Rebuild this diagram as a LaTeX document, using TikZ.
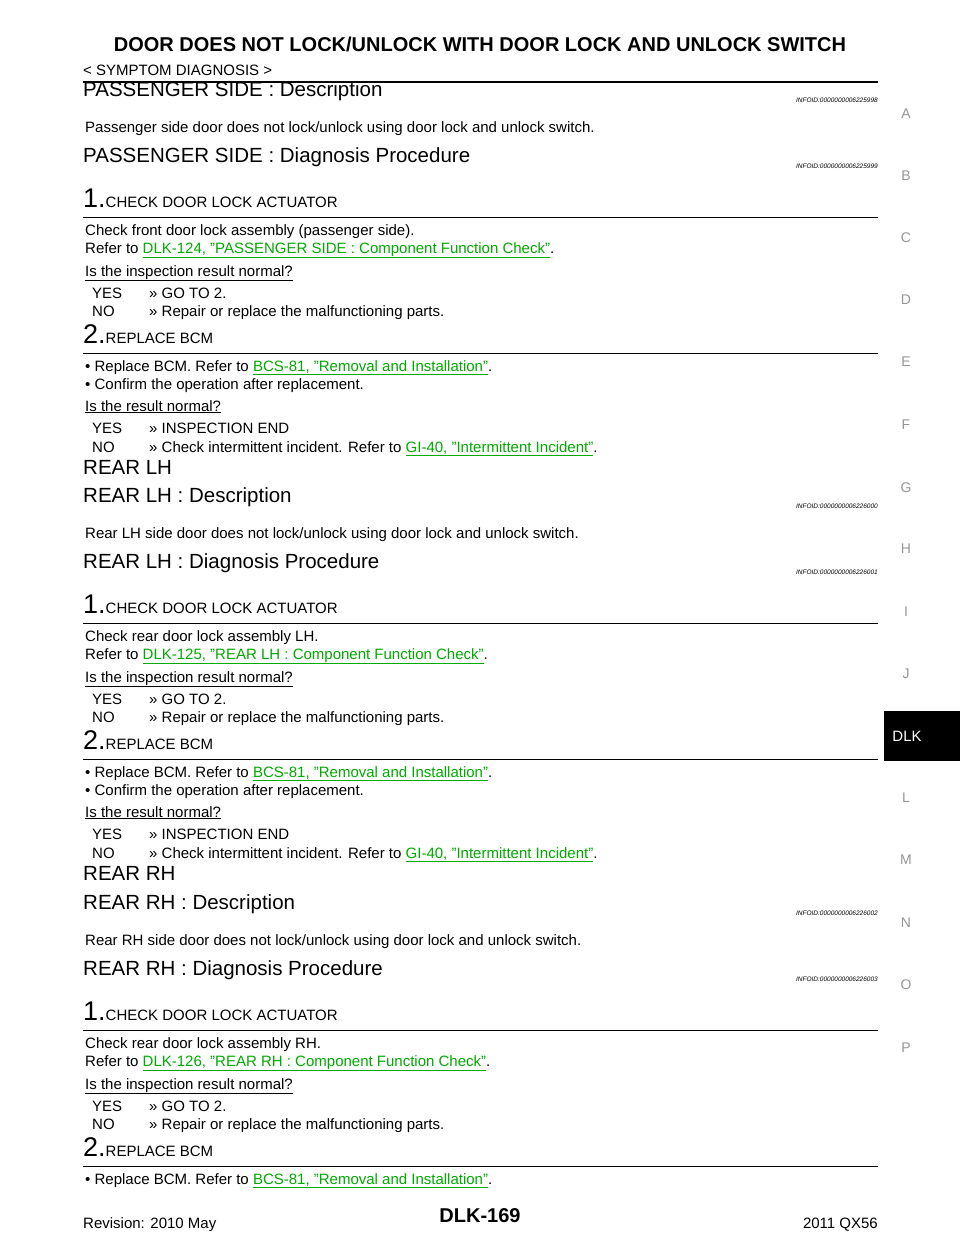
\documentclass[tikz,border=0pt]{standalone}
\usepackage{fontspec}
\setmainfont{Liberation Sans}
\definecolor{lnk}{RGB}{0,170,0}
\definecolor{side}{RGB}{150,150,150}
\newcommand{\lk}[1]{\textcolor{lnk}{\underline{#1}}}
\newcommand{\bd}{\fontsize{15}{18}\selectfont}
\newcommand{\hd}{\fontsize{20.5}{24}\selectfont}
\newcommand{\num}{\fontsize{27}{30}\selectfont}
\tikzset{t/.style={anchor=base west,inner sep=0pt},
  rule/.style={line width=1pt}}
\newcommand{\T}[3]{\node[t] at (#1,#2) {#3};}
\newcommand{\Blk}[5]{% offset, desc title, desc text, step1 text, link
\begin{scope}[yshift=-#1]
\T{83}{-96}{\hd #2 : Description}
\node[anchor=base east,inner sep=0pt] at (878,-102) {\fontsize{6.5}{7}\selectfont\itshape INFOID:#4};
\T{85}{-132}{\bd #3}
\T{83}{-162}{\hd #2 : Diagnosis Procedure}
\node[anchor=base east,inner sep=0pt] at (878,-168) {\fontsize{6.5}{7}\selectfont\itshape INFOID:#5};
\end{scope}}
\newcommand{\Steps}[3]{% offset, check line, link
\begin{scope}[yshift=-#1]
\T{83}{-207}{\num 1.\bd CHECK DOOR LOCK ACTUATOR}
\draw[rule] (83,-217)--(878,-217);
\T{85}{-235}{\bd #2}
\T{85}{-253}{\bd Refer to \lk{#3}.}
\T{85}{-276}{\bd \underline{Is the inspection result normal?}}
\T{92}{-298}{\bd YES}\T{149}{-298}{\bd >> GO TO 2.}
\T{92}{-316}{\bd NO}\T{149}{-316}{\bd >> Repair or replace the malfunctioning parts.}
\T{83}{-343}{\num 2.\bd REPLACE BCM}
\draw[rule] (83,-353)--(878,-353);
\T{85}{-371}{\bd • Replace BCM. Refer to \lk{BCS-81, "Removal and Installation"}.}
\end{scope}}
\newcommand{\Tail}[1]{%
\begin{scope}[yshift=-#1]
\T{85}{-389}{\bd • Confirm the operation after replacement.}
\T{85}{-411}{\bd \underline{Is the result normal?}}
\T{92}{-433}{\bd YES}\T{149}{-433}{\bd >> INSPECTION END}
\T{92}{-452}{\bd NO}\T{149}{-452}{\bd >> Check intermittent incident. Refer to \lk{GI-40, "Intermittent Incident"}.}
\end{scope}}
\begin{document}
\begin{tikzpicture}[x=1pt,y=1pt]
\useasboundingbox[fill=white] (0,0) rectangle (960,-1242);
\node[anchor=base,inner sep=0pt] (title) at (480,-51) {\fontsize{20}{24}\selectfont\bfseries DOOR DOES NOT LOCK/UNLOCK WITH DOOR LOCK AND UNLOCK SWITCH};
\T{83}{-75}{\bd < SYMPTOM DIAGNOSIS >}
\draw[line width=2pt] (83,-82)--(878,-82);
\Blk{0}{PASSENGER SIDE}{Passenger side door does not lock/unlock using door lock and unlock switch.}{0000000006225998}{0000000006225999}
\Steps{0}{Check front door lock assembly (passenger side).}{DLK-124, "PASSENGER SIDE : Component Function Check"}
\Tail{0}
\T{83}{-474}{\hd REAR LH}
\Blk{406}{REAR LH}{Rear LH side door does not lock/unlock using door lock and unlock switch.}{0000000006226000}{0000000006226001}
\Steps{406}{Check rear door lock assembly LH.}{DLK-125, "REAR LH : Component Function Check"}
\Tail{406}
\T{83}{-880}{\hd REAR RH}
\Blk{813}{REAR RH}{Rear RH side door does not lock/unlock using door lock and unlock switch.}{0000000006226002}{0000000006226003}
\Steps{813}{Check rear door lock assembly RH.}{DLK-126, "REAR RH : Component Function Check"}
\foreach \l/\y in {A/114,B/176,C/238,D/300,E/362,F/425,G/488,H/549,I/612,J/674,L/798,M/860,N/923,O/985,P/1048}
  \node[text=side,font=\fontsize{14}{16}\selectfont] at (906,-\y) {\l};
\fill[black] (884,-711) rectangle (960,-761);
\node[text=white,font=\fontsize{15}{17}\selectfont] (dlk) at (907,-736) {DLK};
\T{83}{-1228}{\bd Revision: 2010 May}
\node[anchor=base,inner sep=0pt] (pg) at (480,-1222) {\fontsize{20}{24}\selectfont\bfseries DLK-169};
\node[anchor=base east,inner sep=0pt] (mdl) at (878,-1228) {\bd 2011 QX56};
\end{tikzpicture}
\end{document}
